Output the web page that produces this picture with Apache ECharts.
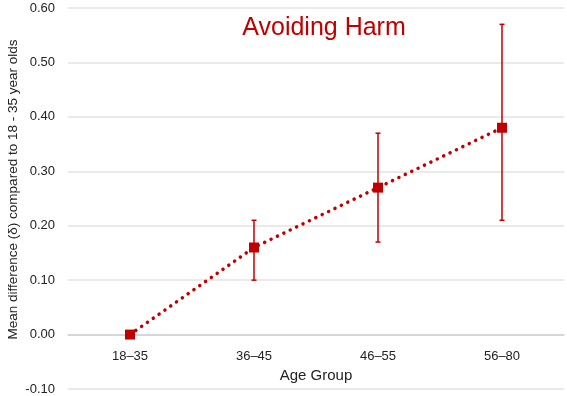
<!DOCTYPE html>
<html>
<head>
<meta charset="utf-8">
<script src="https://cdn.jsdelivr.net/npm/echarts@6/dist/echarts.min.js"></script>
<style>
  html, body { margin: 0; padding: 0; background: #fff; }
  #chart { width: 567px; height: 396px; }
</style>
</head>
<body>
<div id="chart"></div>
<script>
const ageGroups = ['18–35', '36–45', '46–55', '56–80']
const meanDiff = [0, 0.16, 0.27, 0.38]
const errLow = [null, 0.10, 0.17, 0.21]
const errHigh = [null, 0.21, 0.37, 0.57]

const red = '#c00000'
const font = "'Liberation Sans', Arial, sans-serif"

const errData = ageGroups
  .map((g, i) => [i, errLow[i], errHigh[i]])
  .filter(d => d[1] !== null)

// plot area: top 8, bottom 389 -> zero line sits one tick (0.1) above the bottom
const gridTop = 8
const gridBottom = 7
const plotH = 396 - gridTop - gridBottom
const zeroOffset = plotH / 7

const chart = echarts.init(document.getElementById('chart'))

chart.setOption({
  animation: false,
  title: {
    text: 'Avoiding Harm',
    left: 319,
    top: 11,
    textAlign: 'center',
    textStyle: { color: red, fontSize: 25, fontWeight: 'normal', fontFamily: font }
  },
  grid: { left: 68, right: 3, top: gridTop, bottom: gridBottom, outerBoundsMode: 'none' },
  xAxis: {
    type: 'category',
    data: ageGroups,
    offset: -zeroOffset,
    name: 'Age Group',
    nameLocation: 'middle',
    nameGap: 34,
    nameMoveOverlap: false,
    nameTextStyle: { color: '#222', fontSize: 15, fontFamily: font },
    axisLine: { onZero: false, lineStyle: { color: '#d0d0d0', width: 1.5 } },
    axisTick: { show: false },
    axisLabel: { color: '#222', fontSize: 13, margin: 15, fontFamily: font }
  },
  yAxis: {
    type: 'value',
    min: -0.1,
    max: 0.6,
    interval: 0.1,
    name: 'Mean difference (δ) compared to 18 - 35 year olds',
    nameLocation: 'middle',
    nameGap: 48,
    nameMoveOverlap: false,
    nameTextStyle: { color: '#222', fontSize: 13.5, fontFamily: font, padding: [0, 0, 0, 18] },
    axisLine: { show: false },
    axisTick: { show: false },
    axisLabel: {
      color: '#222', fontSize: 13, margin: 13, fontFamily: font,
      formatter: v => v.toFixed(2)
    },
    splitLine: { lineStyle: { color: '#e3e3e3', width: 1.5 } }
  },
  series: [
    {
      type: 'line',
      data: meanDiff,
      symbol: 'rect',
      symbolSize: 10,
      itemStyle: { color: red },
      lineStyle: { color: red, width: 3.5, type: [0.1, 7], cap: 'round' },
      z: 3
    },
    {
      type: 'custom',
      data: errData,
      z: 2,
      renderItem: (params, api) => {
        const x = api.value(0)
        const lo = api.coord([x, api.value(1)])
        const hi = api.coord([x, api.value(2)])
        const cap = 2.5
        const style = { stroke: red, lineWidth: 1.5 }
        return {
          type: 'group',
          children: [
            { type: 'line', shape: { x1: lo[0], y1: lo[1], x2: hi[0], y2: hi[1] }, style },
            { type: 'line', shape: { x1: lo[0] - cap, y1: lo[1], x2: lo[0] + cap, y2: lo[1] }, style },
            { type: 'line', shape: { x1: hi[0] - cap, y1: hi[1], x2: hi[0] + cap, y2: hi[1] }, style }
          ]
        }
      }
    }
  ]
})
</script>
</body>
</html>
